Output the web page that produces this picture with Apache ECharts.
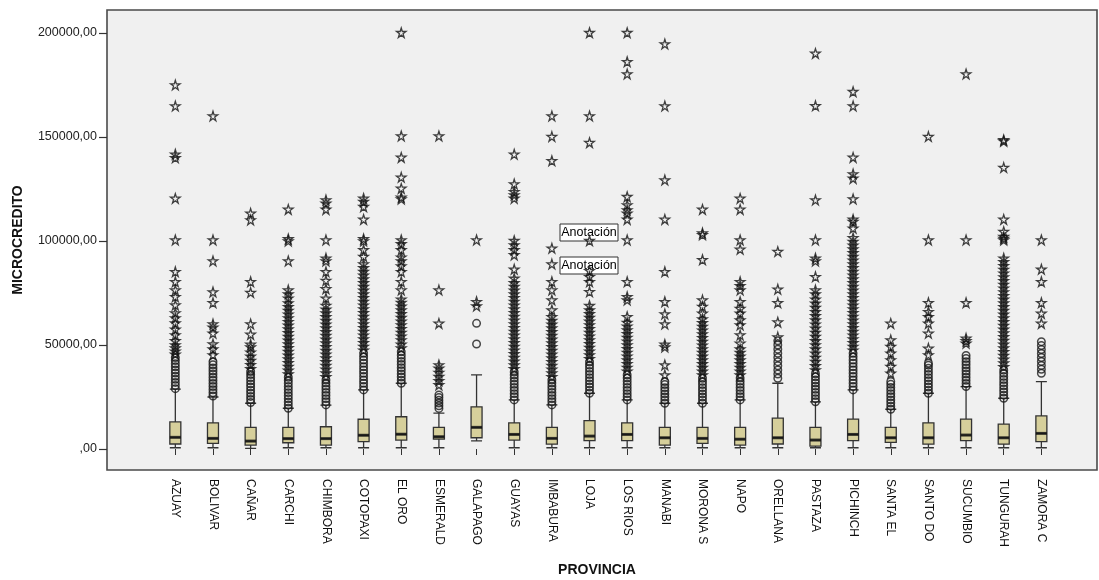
<!DOCTYPE html>
<html>
<head>
<meta charset="utf-8">
<script src="https://cdn.jsdelivr.net/npm/echarts@6/dist/echarts.min.js"></script>
<style>
html,body{margin:0;padding:0;background:#fff;}
#chart{width:1099px;height:580px;}
</style>
</head>
<body>
<div id="chart"></div>
<script>
// ---- DATA ----
const categories = ['AZUAY','BOLIVAR','CAÑAR','CARCHI','CHIMBORA','COTOPAXI','EL ORO','ESMERALD','GALAPAGO','GUAYAS','IMBABURA','LOJA','LOS RIOS','MANABI','MORONA S','NAPO','ORELLANA','PASTAZA','PICHINCH','SANTA EL','SANTO DO','SUCUMBIO','TUNGURAH','ZAMORA C'];

const boxLow    = [600,600,300,600,600,600,600,600,3900,600,600,600,600,600,600,600,600,600,600,600,600,600,600,600];
const boxQ1     = [2400,2700,1900,3000,1900,3500,4300,4700,5400,4300,2300,4000,4000,1900,2700,1900,2400,1400,4000,3200,2300,4000,2300,3500];
const boxMedian = [5600,5100,3800,5000,5000,6600,7100,5900,10400,7000,5100,6200,7000,5400,5100,4700,5400,4300,7000,5400,5400,6700,5400,7500];
const boxQ3     = [13000,12600,10400,10400,10700,14300,15500,10400,20300,12600,10400,13600,12600,10400,10400,10400,14800,10400,14400,10400,12600,14400,12000,15900];
const boxHigh   = [28800,25000,22000,19600,21100,28400,31600,17200,35600,23600,21200,26800,23600,22000,22000,23600,31600,22700,28400,19100,26800,30000,24400,32400];

// mild outliers (circles), one list per province
const mildOutliers = [
 [29000,30500,32000,33500,35000,36500,38000,39500,41000,42500,44000],
 [25500,27000,28500,30000,31500,33000,34500,36000,37500,39000,40500,42000],
 [22300,23800,25300,26800,28300,29800,31300,32800,34300,35800,37200],
 [19600,21100,22600,24100,25600,27100,28600,30100,31600,33100,34500],
 [21200,22700,24200,25700,27200,28700,30200,31700,33200],
 [28400,30000,31600,33200,34800,36400,38000,39600,41200,42800,44400,46000],
 [31600,33100,34600,36100,37600,39100,40600,42100,43600,45100,46700],
 [19500,20800,22100,23400,24700,26000],
 [50500,60400],
 [23600,25100,26600,28100,29600,31100,32600,34100,35600,37000],
 [21200,22700,24200,25700,27200,28700,30200,31700,33200],
 [26800,28300,29800,31300,32800,34300,35800,37300,38800,40300,41800],
 [23600,25100,26600,28100,29600,31100,32600,34100,35600],
 [22000,23500,25000,26500,28000,29500,31000,32400],
 [22000,23500,25000,26500,28000,29500,31000,32500,34000],
 [23600,25100,26600,28100,29600,31100,32600,34100],
 [34000,36000,38000,40000,42000,44000,46000,48000,50000,52000],
 [22700,24200,25700,27200,28700,30200,31700,33200,34700,36200],
 [28400,30000,31600,33200,34800,36400,38000,39600,41200,42800,44400,46000],
 [19100,20600,22100,23600,25100,26600,28100,29600,31100,32400],
 [26800,28300,29800,31300,32800,34300,35800,37300,38800,40300,41200],
 [30000,31500,33000,34500,36000,37500,39000,40500,42000,43500,45000],
 [24400,25900,27400,28900,30400,31900,33400,34900,36400,37900],
 [36400,38300,40200,42100,44000,45900,47800,49700,51600]
];

// extreme outliers (stars), one list per province
const extremeOutliers = [
 [45500,47000,48500,50000,52000,54800,57500,60500,63000,65400,69200,73200,76400,80400,85200,100500,120500,140000,141700,164900,175000],
 [45200,48000,50500,55600,58500,60100,70300,75500,90400,100500,160100],
 [38500,40500,42500,44500,46500,49000,50300,55100,60100,75200,80400,110100,113300],
 [36000,37800,39600,41400,43200,45000,46800,48600,50400,52200,54000,55800,57600,59400,61200,63000,64800,66600,68400,70200,72500,74500,76400,90400,100000,101000,115200],
 [34700,36500,38300,40100,41900,43700,45500,47300,49100,50900,52700,54500,56300,58100,59900,61700,63500,65300,67100,69000,72500,77000,81000,85200,90400,91700,100500,115200,118100,119700],
 [47500,49300,51100,52900,54700,56500,58300,60100,61900,63700,65500,67300,69100,70900,72700,74500,76300,78100,79900,81700,83500,85300,87100,88900,92500,95700,100000,101000,110400,116500,118900,120500],
 [48500,50300,52400,54200,56000,57800,59600,61400,63200,65000,66800,68600,70400,72000,76400,80400,85200,88000,90400,92200,95700,98600,100500,120200,121000,125300,130600,140200,150500,200150],
 [30800,32800,34800,36800,38800,40400,60400,76400,150500],
 [68700,70800,100500],
 [38500,40300,42100,43900,45700,47500,49300,51100,52900,54700,56500,58300,60100,61900,63700,65500,67300,69100,70900,72700,74500,76300,78100,79900,82000,86400,93300,95700,98100,100150,120500,122100,123700,127400,141700],
 [34700,36500,38300,40100,41900,43700,45500,47300,49100,50900,52700,54500,56300,58100,59900,61700,63500,66800,71600,76400,80400,88900,96500,138600,150200,160100],
 [43400,45200,47000,48800,50600,52400,54200,56000,57800,59600,61400,63200,65000,66800,68900,75600,80400,82800,85700,100150,147300,160100,200150],
 [37400,39200,41000,42800,44600,46400,48200,50000,51800,53600,55400,57200,59000,60800,63600,71600,73200,80400,100500,110400,113300,114900,117300,121300,180300,186200,200150],
 [35600,40400,49000,50300,60100,64900,70800,85200,110400,129300,164900,194700],
 [35500,37300,39100,40900,42700,44500,46300,48100,49900,51700,53500,55300,57100,58900,60700,62500,65200,68500,71600,91000,103000,103800,115200],
 [35500,37300,39100,40900,42700,44500,46300,48000,50800,54800,59600,62000,65200,67500,70800,76400,78500,80400,96000,100500,115200,120500],
 [53800,61000,70300,76800,94900],
 [38000,40000,42000,44000,46000,48000,50000,52000,54000,56000,58000,60000,62000,64000,66000,68000,70000,72000,74500,76400,82800,90400,91700,100500,119700,165000,190200],
 [47500,49300,51100,52900,54700,56500,58300,60100,61900,63700,65500,67300,69100,70900,72700,74500,76300,78100,79900,81700,83500,85300,87100,88900,90700,92500,94300,96100,97900,99700,101500,106100,109300,110400,120200,130100,132200,140200,164900,171800],
 [36400,39600,42800,46000,49200,52400,60400],
 [45200,48400,55600,60400,63600,66000,70300,100500,150200],
 [50800,52000,53200,70300,100500,180300],
 [39500,41300,43100,44900,46700,48500,50300,52100,53900,55700,57500,59300,61100,62900,64700,66500,68300,70100,71900,73700,75500,77300,79100,80900,82700,84500,86300,88100,90000,91700,100500,101200,102100,104500,110400,135300,148000,148600],
 [60400,65200,70300,80400,86400,100500]
];

const yTickStep = 50000;
const annotationText = ['Anotación','Anotación'];

// ---- BUILD ----
const boxData = categories.map((c,i)=>[boxLow[i],boxQ1[i],boxMedian[i],boxQ3[i],boxHigh[i]]);
const medianData = categories.map((c,i)=>[c,boxMedian[i]]);
const mildData = [], extremeData = [];
categories.forEach((c,i)=>{
  mildOutliers[i].forEach(v=>mildData.push([c,v]));
  extremeOutliers[i].forEach(v=>extremeData.push([c,v]));
});

const FONT = '"Liberation Sans", Arial, sans-serif';
const STAR = 'path://M50,2 L61,37 L98,37 L68,59 L79,95 L50,73 L21,95 L32,59 L2,37 L39,37 Z';

const chart = echarts.init(document.getElementById('chart'), null, {renderer:'canvas'});
chart.setOption({
  animation:false,
  backgroundColor:'#ffffff',
  grid:[
    {left:107, top:10, width:990, height:460, show:true, backgroundColor:'#f0f0f0', borderColor:'#4a4a4a', borderWidth:1.6},
    {left:156.5, top:33, width:903.7, height:416, show:false}
  ],
  xAxis:[
    {gridIndex:0, type:'value', show:false, min:0, max:1},
    {gridIndex:1, type:'category', data:categories, boundaryGap:true, offset:21,
     axisLine:{show:false},
     axisTick:{show:true, alignWithLabel:true, length:6, lineStyle:{color:'#333', width:1}},
     axisLabel:{rotate:-90, margin:9, fontFamily:FONT, fontSize:12, color:'#111', interval:0},
     splitLine:{show:false}}
  ],
  yAxis:[
    {gridIndex:0, type:'value', show:false, min:0, max:200000},
    {gridIndex:1, type:'value', min:0, max:200000, interval:yTickStep, offset:49.5,
     axisLine:{show:false},
     axisTick:{show:true, length:8, lineStyle:{color:'#333', width:1.2}},
     axisLabel:{fontFamily:FONT, fontSize:12.5, color:'#222', margin:10,
       formatter:v=> v===0 ? ',00' : (v + ',00')},
     splitLine:{show:false}}
  ],
  series:[
    {type:'boxplot', xAxisIndex:1, yAxisIndex:1, data:boxData, boxWidth:[11,11],
     itemStyle:{color:'#d6cf9b', borderColor:'#333', borderWidth:1.3}, z:3},
    {type:'scatter', xAxisIndex:1, yAxisIndex:1, data:medianData, symbol:'rect', symbolSize:[11,3],
     itemStyle:{color:'#111'}, z:4, clip:false},
    {type:'scatter', xAxisIndex:1, yAxisIndex:1, data:mildData, symbol:'circle', symbolSize:7.5,
     itemStyle:{color:'rgba(0,0,0,0)', borderColor:'#1a1a1a', borderWidth:1.5}, z:5, clip:false},
    {type:'scatter', xAxisIndex:1, yAxisIndex:1, data:extremeData, symbol:STAR, symbolSize:9.5,
     itemStyle:{color:'rgba(0,0,0,0)', borderColor:'#111', borderWidth:1.3}, z:5, clip:false}
  ],
  graphic:[
    {type:'text', rotation:Math.PI/2, x:18, y:240,
     style:{text:'MICROCREDITO', font:'bold 14px '+FONT, fill:'#111', textAlign:'center', textVerticalAlign:'middle'}},
    {type:'text', x:597, y:570,
     style:{text:'PROVINCIA', font:'bold 14px '+FONT, fill:'#111', textAlign:'center', textVerticalAlign:'middle'}},
    {type:'group', x:560, y:224, z:100, children:[
      {type:'rect', shape:{x:0,y:0,width:58,height:17}, style:{fill:'#fff', stroke:'#333', lineWidth:1}},
      {type:'text', x:29, y:9, style:{text:annotationText[0], font:'12.5px '+FONT, fill:'#000', textAlign:'center', textVerticalAlign:'middle'}}
    ]},
    {type:'group', x:560, y:257, z:100, children:[
      {type:'rect', shape:{x:0,y:0,width:58,height:17}, style:{fill:'#fff', stroke:'#333', lineWidth:1}},
      {type:'text', x:29, y:9, style:{text:annotationText[1], font:'12.5px '+FONT, fill:'#000', textAlign:'center', textVerticalAlign:'middle'}}
    ]}
  ]
});
</script>
</body>
</html>
